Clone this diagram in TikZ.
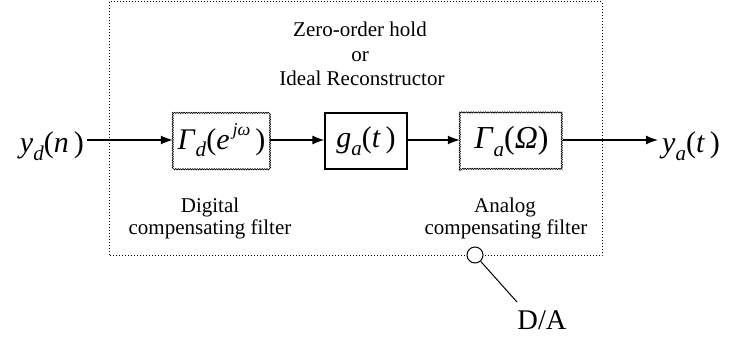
\documentclass[tikz,border=0pt]{standalone}
\usepackage{fontspec}
\setmainfont{Liberation Serif}
\usetikzlibrary{arrows.meta,decorations.pathmorphing}
\newcommand{\mysubx}[1]{\raisebox{-0.25em}{\fontsize{21}{21}\selectfont\textit{#1}}}
\newcommand{\mysupx}[1]{\raisebox{0.45em}{\fontsize{18}{18}\selectfont\textit{#1}}}
\tikzset{
  wavybox/.style={draw, line width=0.7pt, decorate,
    decoration={snake, amplitude=0.6pt, segment length=2.4pt}},
  solidbox/.style={draw, line width=1.2pt},
  mathtxt/.style={font=\fontsize{30}{32}\selectfont, inner sep=0pt},
  lbl/.style={font=\fontsize{21}{22}\selectfont, align=center, inner sep=0pt},
  conn/.style={line width=1.3pt, -{Latex[length=12pt,width=9pt]}},
}
\begin{document}
\begin{tikzpicture}[x=1pt,y=-1pt]
\useasboundingbox (0,0) rectangle (731,339);
% outer dotted box
\draw[line width=1pt, dash pattern=on 1.2pt off 1.8pt] (109,2) rectangle (602,256);
% title
\node[lbl, anchor=base] (t1) at (360,37) {Zero-order hold};
\node[lbl, anchor=base] (t2) at (360,62) {or};
\node[lbl, anchor=base] (t3) at (362,86) {Ideal Reconstructor};
% blocks
\node[minimum width=97pt, minimum height=55pt, inner sep=0pt] (gd) at (221.5,140.5) {};
\draw[wavybox] (gd.south west) rectangle (gd.north east);
\node[mathtxt] at (gd) {\textit{Γ}\mysubx{d}(\textit{e}\mysupx{\,jω}\,)};
\node[solidbox, minimum width=82pt, minimum height=56pt, inner sep=0pt, mathtxt] (ga) at (366,141) {\textit{g}\mysubx{a}(\textit{t}\,)};
\node[minimum width=103pt, minimum height=57pt, inner sep=0pt] (gA) at (511.5,141.5) {};
\draw[wavybox] (gA.south west) rectangle (gA.north east);
\node[mathtxt, font=\fontsize{32}{34}\selectfont] at (gA) {\textit{Γ}\mysubx{a}(\textit{Ω})};
% input / output
\node[mathtxt, anchor=east] (yd) at (84,146) {\textit{y}\mysubx{d}(\textit{n}\,)};
\node[mathtxt, anchor=west] (ya) at (662,146) {\textit{y}\mysubx{a}(\textit{t}\,)};
% connectors
\draw[conn] (yd.east |- 0,140) ++(3,0) -- (gd.west |- 0,140);
\draw[conn] (gd.east |- 0,140) -- (ga.west |- 0,140);
\draw[conn] (ga.east |- 0,140) -- (gA.west |- 0,140);
\draw[conn] (gA.east |- 0,140) -- (658,140) coordinate (yaend);
% labels
\node[lbl, anchor=base] (ld1) at (210,213) {Digital};
\node[lbl, anchor=base] (ld2) at (210,235) {compensating filter};
\node[lbl, anchor=base] (la1) at (505,213) {Analog};
\node[lbl, anchor=base] (la2) at (506,235) {compensating filter};
% D/A marker
\node[draw, fill=white, circle, line width=1pt, minimum size=16pt, inner sep=0pt] (c) at (475,255) {};
\coordinate (da end) at (517,302);
\draw[line width=1pt] (c) -- (da end);
\node[font=\fontsize{28.5}{30}\selectfont, anchor=base, inner sep=0pt] (da) at (542,329) {D/A};
\end{tikzpicture}
\end{document}
